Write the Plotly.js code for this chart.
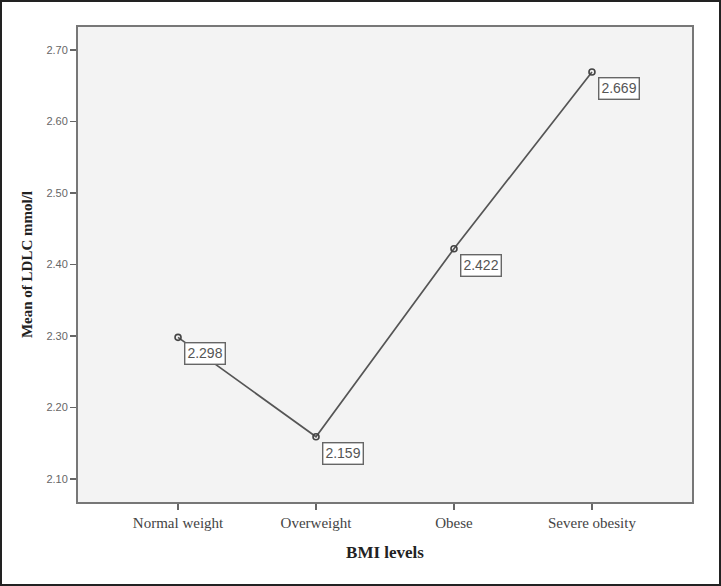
<!DOCTYPE html>
<html>
<head>
<meta charset="utf-8">
<script src="https://cdn.plot.ly/plotly-3.0.1.min.js"></script>
<style>
  html, body { margin: 0; padding: 0; background: #fff; }
  #frame { width: 717px; height: 582px; border: 2px solid #222; position: relative; overflow: hidden; }
  #chart { position: absolute; left: -2px; top: -2px; width: 721px; height: 586px; }
</style>
</head>
<body>
<div id="frame"><div id="chart"></div></div>
<script>
var categories = ['Normal weight', 'Overweight', 'Obese', 'Severe obesity'];
var ldl_means = [2.298, 2.159, 2.422, 2.669];
var y_ticks = [2.10, 2.20, 2.30, 2.40, 2.50, 2.60, 2.70];
var y_tick_labels = ['2.10', '2.20', '2.30', '2.40', '2.50', '2.60', '2.70'];

var trace = {
  x: [0, 1, 2, 3],
  y: ldl_means,
  type: 'scatter',
  mode: 'lines+markers',
  line: {color: '#555555', width: 1.7},
  marker: {symbol: 'circle-open', size: 6, color: '#444444', line: {width: 1.6, color: '#444444'}},
  hoverinfo: 'none'
};

var notes = [];
for (var i = 0; i < ldl_means.length; i++) {
  notes.push({
    x: i,
    y: ldl_means[i],
    xref: 'x',
    yref: 'y',
    text: ldl_means[i].toFixed(3),
    showarrow: false,
    xanchor: 'left',
    yanchor: 'top',
    xshift: 6,
    yshift: -5,
    bgcolor: '#ffffff',
    bordercolor: '#666666',
    borderwidth: 1.4,
    borderpad: 2,
    font: {family: 'Liberation Sans, Arial, sans-serif', size: 14, color: '#555555'}
  });
}

var plot_layout = {
  width: 721,
  height: 586,
  margin: {l: 78, r: 29, t: 27, b: 84},
  paper_bgcolor: 'rgba(0,0,0,0)',
  plot_bgcolor: '#f3f3f3',
  showlegend: false,
  xaxis: {
    range: [-0.725, 3.725],
    tickmode: 'array',
    tickvals: [0, 1, 2, 3],
    ticktext: categories,
    ticks: 'outside',
    ticklen: 6,
    tickwidth: 1.5,
    tickcolor: '#666666',
    showgrid: false,
    zeroline: false,
    showline: true,
    linecolor: '#777777',
    linewidth: 2,
    mirror: true,
    tickfont: {family: 'Liberation Serif, Times New Roman, serif', size: 15, color: '#444444'},
    title: {text: 'BMI levels', standoff: 16,
            font: {family: 'Liberation Serif, Times New Roman, serif', size: 17, color: '#222222', weight: 'bold'}}
  },
  yaxis: {
    range: [2.0678, 2.732],
    tickmode: 'array',
    tickvals: y_ticks,
    ticktext: y_tick_labels,
    ticks: 'outside',
    ticklen: 6,
    tickwidth: 1.5,
    tickcolor: '#666666',
    showgrid: false,
    zeroline: false,
    showline: true,
    linecolor: '#777777',
    linewidth: 2,
    mirror: true,
    tickfont: {family: 'Liberation Sans, Arial, sans-serif', size: 11, color: '#666666'},
    title: {text: 'Mean of LDLC mmol/l', standoff: 10,
            font: {family: 'Liberation Serif, Times New Roman, serif', size: 15, color: '#222222', weight: 'bold'}}
  },
  annotations: notes
};

Plotly.newPlot('chart', [trace], plot_layout, {displaylogo: false, displayModeBar: false, staticPlot: true});
</script>
</body>
</html>
